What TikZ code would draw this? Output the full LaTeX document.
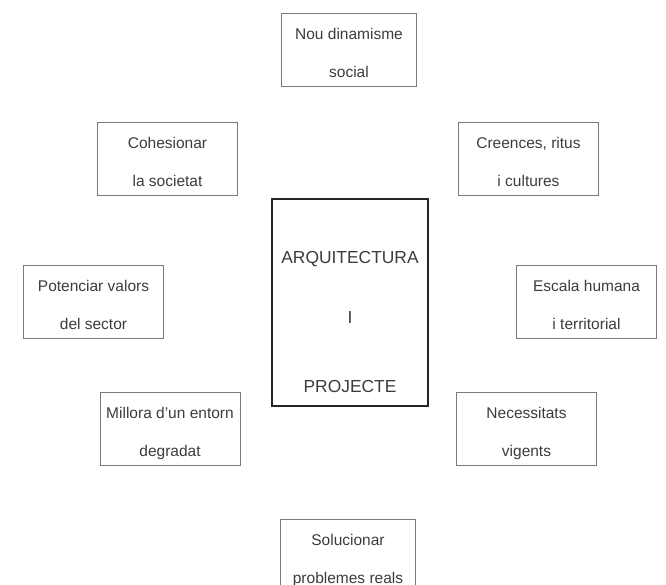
\documentclass[tikz,border=0pt]{standalone}
\usepackage{fontspec}
\setmainfont{Liberation Sans}
\definecolor{boxgray}{HTML}{7A7A7A}
\definecolor{txtgray}{HTML}{3C3C3C}
% two lines of a box, with fixed struts
\newcommand{\valtext}[2]{\rule{0pt}{21.2pt}#1\\[20pt]#2\rule[-4pt]{0pt}{4pt}}

\begin{document}
\begin{tikzpicture}[x=1pt,y=-1pt,
    valuebox/.style={draw=boxgray, line width=0.8pt, minimum width=140pt, minimum height=73pt, inner sep=0pt, align=center, text=txtgray, font=\fontsize{15.5}{18}\selectfont},
    corebox/.style={draw=black!85, line width=2.4pt, minimum width=155.6pt, minimum height=206.6pt, inner sep=0pt},
    coretext/.style={align=center, text=txtgray, font=\fontsize{17.4}{20}\selectfont}]
    % Page frame
    \useasboundingbox (0,0) rectangle (666,585);
    \clip (0,0) rectangle (666,585);

    % Draw central box
    \node[corebox] (arq) at (350,302.5) {};
    \node[coretext, yshift=-20pt] (arqtext) at (arq.center) {ARQUITECTURA\\[40pt]I\\[49pt]PROJECTE};

    % Draw surrounding boxes
    \node[valuebox, minimum width=135pt] (dinamisme) at (349,50) {\valtext{Nou dinamisme}{social}};
    \node[valuebox] (cohesio) at (167.5,158.5) {\valtext{Cohesionar}{la societat}};
    \node[valuebox] (creences) at (528.5,158.5) {\valtext{Creences, ritus}{i cultures}};
    \node[valuebox] (valors) at (93.5,302) {\valtext{Potenciar valors}{del sector}};
    \node[valuebox] (escala) at (586.5,302) {\valtext{Escala humana}{i territorial}};
    \node[valuebox] (millora) at (170,429) {\valtext{Millora d'un entorn}{degradat}};
    \node[valuebox] (necessitats) at (526.5,429) {\valtext{Necessitats}{vigents}};
    \node[valuebox, minimum width=135pt] (solucions) at (348,556) {\valtext{Solucionar}{problemes reals}};
\end{tikzpicture}
\end{document}
